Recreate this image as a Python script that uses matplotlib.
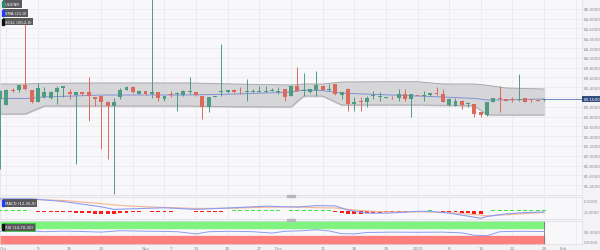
import numpy as np
import pandas as pd
import matplotlib
matplotlib.use("Agg")
import matplotlib.pyplot as plt
from matplotlib.patches import Rectangle

# daily candles, Oct 1 2019 .. Jan 29 2020 (weekdays)
dates = pd.bdate_range("2019-10-01", "2020-01-29")
axis_days = pd.bdate_range("2019-10-01", "2020-02-07")

opens = [83.16, 83.037, 83.349, 83.349, 83.445, 83.349, 83.105, 83.21, 83.172, 83.309,
         83.39, 83.295, 83.247, 83.295, 83.295, 83.206, 83.227, 83.105, 83.009, 83.193,
         83.349, 83.397, 83.261, 83.322, 83.268, 83.295, 83.159, 83.27, 83.26, 83.24,
         83.30, 83.295, 83.227, 82.989, 83.20, 83.295, 83.295, 83.349, 83.31, 83.295,
         83.31, 83.31, 83.31, 83.33, 83.31, 83.363, 83.227, 83.431, 83.32, 83.295,
         83.349, 83.431, 83.34, 83.465, 83.24, 83.363, 83.057, 83.11, 83.091, 83.23,
         83.193, 83.18, 83.20, 83.172, 83.261, 83.159, 83.24, 83.22, 83.24, 83.29,
         83.261, 83.037, 83.023, 83.125, 83.05, 83.057, 82.887, 82.833, 83.105, 83.17,
         83.159, 83.15, 83.132, 83.172, 83.15, 83.145, 83.13]
closes = [83.33, 83.349, 83.322, 83.445, 83.363, 83.091, 83.377, 83.30, 83.309, 83.39,
          83.417, 83.261, 83.295, 83.27, 83.213, 83.159, 83.105, 83.009, 83.105, 83.349,
          83.397, 83.295, 83.322, 83.261, 83.295, 83.172, 83.213, 83.25, 83.28, 83.329,
          83.32, 83.24, 82.989, 83.193, 83.22, 83.329, 83.336, 83.295, 83.30, 83.322,
          83.32, 83.32, 83.32, 83.34, 83.32, 83.193, 83.431, 83.329, 83.34, 83.363,
          83.445, 83.349, 83.36, 83.261, 83.295, 83.057, 83.105, 83.09, 83.172, 83.25,
          83.227, 83.19, 83.19, 83.261, 83.159, 83.261, 83.227, 83.24, 83.281, 83.27,
          83.105, 83.159, 83.125, 83.037, 83.07, 82.853, 82.833, 83.091, 83.172, 83.155,
          83.125, 83.14, 83.159, 83.105, 83.135, 83.118, 83.16]
highs = [83.34, 83.36, 83.377, 83.45, 84.69, 83.35, 83.485, 83.40, 83.32, 83.431,
         83.431, 83.363, 83.31, 83.30, 83.601, 83.21, 83.23, 83.11, 83.17, 83.377,
         83.417, 83.417, 83.336, 83.33, 85.25, 83.30, 83.227, 83.329, 83.295, 83.34,
         83.601, 83.31, 83.23, 83.20, 83.227, 84.28, 83.35, 83.36, 83.397, 83.567,
         83.363, 83.431, 83.431, 83.377, 83.397, 83.37, 83.44, 83.805, 83.70, 83.37,
         83.737, 83.44, 83.465, 83.47, 83.30, 83.377, 83.193, 83.193, 83.227, 83.329,
         83.295, 83.193, 83.213, 83.363, 83.363, 83.27, 83.245, 83.329, 83.29, 83.397,
         83.363, 83.172, 83.172, 83.13, 83.105, 83.06, 82.89, 83.095, 83.18, 83.431,
         83.165, 83.193, 83.669, 83.18, 83.159, 83.15, 83.165]
lows = [81.73, 83.03, 83.295, 83.295, 83.349, 83.078, 83.10, 83.18, 83.16, 83.057,
        83.193, 83.159, 81.83, 83.25, 82.717, 83.023, 82.14, 81.94, 81.22, 83.159,
        83.34, 83.281, 83.254, 83.25, 83.172, 83.125, 83.125, 83.193, 82.921, 83.23,
        83.26, 83.227, 82.751, 82.901, 83.19, 83.227, 83.28, 83.29, 83.261, 83.125,
        83.295, 83.295, 83.295, 83.329, 83.261, 83.125, 83.22, 83.32, 83.227, 83.29,
        83.227, 83.34, 83.329, 83.25, 83.159, 82.921, 82.921, 82.921, 82.989, 83.159,
        83.125, 83.172, 83.159, 83.125, 83.125, 82.785, 83.22, 83.125, 83.23, 83.24,
        83.091, 83.023, 83.009, 82.955, 82.989, 82.785, 82.785, 82.819, 83.10, 82.887,
        83.12, 83.091, 83.125, 83.10, 83.105, 83.11, 83.12]

# bollinger band (candle index, upper, middle, lower)
band_idx = [0, 4, 7, 16, 30, 37, 46, 48, 51, 54, 60, 66, 70, 75, 77, 80, 86]
band_up = [83.465, 83.465, 83.48, 83.486, 83.486, 83.465, 83.445, 83.465, 83.465,
           83.506, 83.512, 83.512, 83.465, 83.465, 83.44, 83.384, 83.363]
band_mid = [83.169, 83.169, 83.20, 83.24, 83.241, 83.26, 83.30, 83.343, 83.33,
            83.28, 83.25, 83.22, 83.20, 83.17, 83.14, 83.14, 83.159]
band_lo = [82.853, 82.853, 83.016, 83.016, 83.016, 83.00, 82.996, 83.22, 83.22,
           83.037, 83.037, 83.037, 83.03, 83.02, 82.833, 82.833, 82.833]

# MACD
macd_idx = [0, 5, 10, 16, 18, 21, 26, 31, 37, 42, 47, 50, 53, 55, 58, 61, 63, 66, 68,
            71, 73, 76, 77, 80, 83, 86]
macd_line = [0.119, 0.119, 0.093, 0.041, 0.016, 0.022, 0.032, 0.016, 0.032, 0.047,
             0.038, 0.053, 0.050, 0.009, -0.021, -0.021, -0.015, -0.003, -0.003,
             -0.021, -0.040, -0.071, -0.053, -0.028, -0.015, -0.009]
macd_signal = [0.109, 0.113, 0.103, 0.072, 0.06, 0.047, 0.035, 0.025, 0.028, 0.037,
               0.041, 0.032, 0.030, 0.016, 0.0, -0.009, -0.009, -0.009, -0.009,
               -0.015, -0.025, -0.040, -0.047, -0.037, -0.025, -0.015]
macd_hist = [0.008, 0.008, 0.008, 0.006, 0.006,
             -0.004, -0.005, -0.006, -0.008, -0.010,
             -0.012, -0.014, -0.016, -0.020, -0.022, -0.026, -0.030, -0.032, -0.030, -0.024,
             -0.016, -0.010, -0.006, -0.004,
             -0.006, -0.008, -0.008, -0.006, -0.004,
             -0.002, -0.004,
             -0.010, -0.014, -0.014, -0.012, -0.008,
             0.004, 0.006, 0.008, 0.008, 0.010, 0.010, 0.010, 0.008, 0.006, 0.004, 0.006, 0.006,
             0.008, 0.010, 0.010, 0.008, 0.006,
             -0.010, -0.022, -0.026, -0.030, -0.028, -0.024,
             -0.018, -0.016, -0.014, -0.010, -0.008,
             -0.006, -0.004, -0.002,
             0.004, 0.006, 0.004,
             -0.006, -0.010, -0.014, -0.018, -0.022, -0.028, -0.030,
             0.004, 0.008, 0.010, 0.012, 0.012, 0.014, 0.014, 0.012, 0.012, 0.012]

# RSI
rsi_idx = [0, 2, 4, 7, 10, 13, 16, 19, 22, 25, 28, 31, 33, 36, 40, 43, 45, 48, 50, 52,
           54, 56, 58, 62, 66, 70, 73, 75, 77, 79, 82, 86]
rsi_val = [52, 58, 56, 50, 53, 51, 48, 55, 53, 52, 50, 39, 50, 52, 50, 43, 52, 55, 60, 54,
           40, 39, 46, 48, 47, 48, 44, 32, 30, 50, 52, 51]

price_ticks = np.round(np.arange(81.4, 85.01, 0.2), 1)
tick_dates = ["2019-10-01", "2019-10-09", "2019-10-16", "2019-10-23", "2019-11-01",
              "2019-11-07", "2019-11-13", "2019-11-20", "2019-11-27", "2019-12-02",
              "2019-12-11", "2019-12-18", "2019-12-25", "2020-01-01", "2020-01-08",
              "2020-01-15", "2020-01-22", "2020-01-29", "2020-02-03"]
tick_labels = ["Oct", "9", "16", "23", "Nov", "7", "13", "20", "27", "Dec", "11", "18",
               "25", "2020", "8", "15", "22", "29", "Feb"]

# colours
up_col = "#4f9b82"
dn_col = "#dc6a5c"
grid_col = "#e9e9ee"
lab_col = "#8a8a8a"

W, H = 600, 251
fig = plt.figure(figsize=(6, 2.51), dpi=100, facecolor="#f3f3f6")

def px_axes(y0, y1):
    return fig.add_axes([0, 1 - y1 / H, 582 / W, (y1 - y0) / H])

ax = px_axes(0, 196)
ax_m = px_axes(198, 220)
ax_r = px_axes(222, 245)

x = np.arange(len(dates))
grid_x = axis_days.get_indexer(axis_days[axis_days.weekday == 2])
tick_x = axis_days.get_indexer(pd.to_datetime(tick_dates))

for a in (ax, ax_m, ax_r):
    a.set_facecolor("#f8f8fa")
    a.set_xlim(0, 92)
    for s in a.spines.values():
        s.set_color("#dedee4")
        s.set_linewidth(0.5)
    for gx in grid_x:
        a.axvline(gx, color=grid_col, lw=0.5, zorder=0)
    a.yaxis.tick_right()
    a.tick_params(axis="both", length=0, labelsize=3, colors=lab_col, pad=1.5)
    a.set_xticks([])

# price panel
ax.set_ylim(81.2, 85.2)
ax.set_yticks(price_ticks)
ax.set_yticklabels(["%.4f" % t for t in price_ticks])
for t in price_ticks:
    ax.axhline(t, color=grid_col, lw=0.5, zorder=0)

ax.fill_between(band_idx, band_lo, band_up, color="#d6d6d8", zorder=1)
ax.plot(band_idx, band_up, color="#a4a4a8", lw=0.6, zorder=2)
ax.plot(band_idx, band_lo, color="#a4a4a8", lw=0.6, zorder=2)
ax.plot(band_idx, band_mid, color="#8390d8", lw=0.7, zorder=2)

o = np.array(opens)
c = np.array(closes)
colors = np.where(c >= o, up_col, dn_col)
ax.vlines(x, lows, highs, colors=colors, lw=0.7, zorder=3)
body_h = np.maximum(np.abs(c - o), 0.012)
ax.bar(x, body_h, bottom=np.minimum(o, c), width=0.62, color=colors, zorder=4)

last = closes[-1]
ax.plot([x[-1], 92], [last, last], color="#5877b0", lw=0.6, zorder=5)
ax.text(1.003, last, "%.4f" % last, transform=ax.get_yaxis_transform(), fontsize=3,
        color="white", va="center", ha="left", zorder=10, clip_on=False,
        bbox=dict(boxstyle="square,pad=0.35", fc="#2f4d7d", ec="none"))

# MACD panel
ax_m.set_ylim(-0.078, 0.137)
ax_m.set_yticks([0.1, 0.0])
ax_m.set_yticklabels(["0.1000", "-0.0000"])
hist = np.array(macd_hist)
ax_m.bar(x, hist, width=0.62, color=np.where(hist >= 0, "#3ee83e", "#ff1a1a"), zorder=3)
ax_m.plot(macd_idx, macd_signal, color="#f6b58c", lw=0.8, zorder=4)
ax_m.plot(macd_idx, macd_line, color="#8c9cf2", lw=0.8, zorder=4)

# RSI panel
ax_r.set_ylim(-12, 104)
ax_r.set_yticks([50, 0])
ax_r.set_yticklabels(["50.0000", "0.0000"])
ax_r.fill_between([0, x[-1]], 70, 104, color="#7ff27f", zorder=1)
ax_r.fill_between([0, x[-1]], -12, 30, color="#ff7f7f", zorder=1)
ax_r.axvline(x[-1], color="#7a7a7a", lw=0.6, zorder=2)
ax_r.plot(rsi_idx, rsi_val, color="#8c9cf2", lw=0.7, zorder=3)

ax_r.set_xticks(tick_x)
ax_r.set_xticklabels(tick_labels)
ax_r.get_xticklabels()[0].set_ha("left")

# legend tags
def tag(y, txt, mark, edge=None):
    fig.text(5 / W, 1 - y / H, txt, fontsize=2.8, color="white", va="center", ha="left",
             bbox=dict(boxstyle="square,pad=0.4", fc="#5a5a5c",
                       ec=edge if edge else "none", lw=0.5))
    fig.patches.append(Rectangle((2 / W, 1 - (y + 3) / H), 1.5 / W, 6 / H,
                                 transform=fig.transFigure, color=mark, zorder=5))

tag(5, "USDINR", "#2e8b6e")
tag(14, "SMA (21,0)", "#1f3cff")
tag(22.5, "BOLL (20,2,0)", "#111111")
tag(204, "MACD (12,26,9)", "#1f3cff")
tag(228, "RSI (14,70,30)", "#111111", edge="#2ecc2e")

# panel drag handles
for hy in (196.5, 220.5):
    fig.patches.append(Rectangle((287 / W, 1 - (hy + 1) / H), 8 / W, 2 / H,
                                 transform=fig.transFigure, color="#b8b8bc", zorder=5))

fig.savefig("out.png", dpi=100, facecolor=fig.get_facecolor())
